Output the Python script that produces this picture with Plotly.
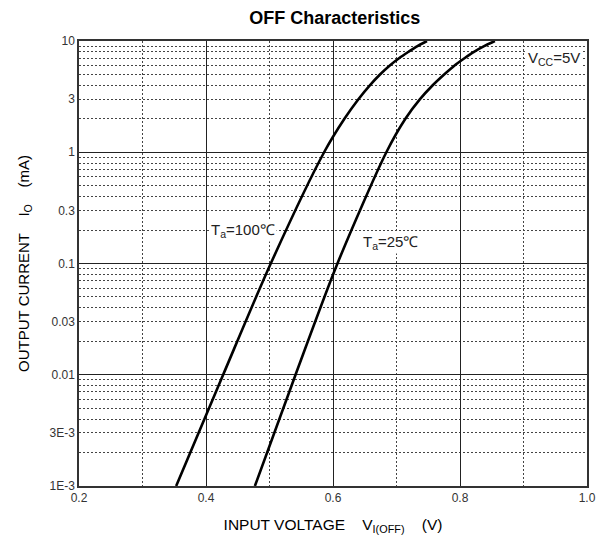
import numpy as np
import plotly.graph_objects as go

# Data
current_ma = [0.001, 0.01, 0.1, 1, 2, 3, 4, 5, 6, 7, 8, 9, 10]
v_100c = [0.353, 0.427, 0.502, 0.586, 0.618, 0.640, 0.658, 0.674, 0.689, 0.704, 0.719, 0.733, 0.748]
v_25c = [0.477, 0.541, 0.607, 0.684, 0.714, 0.737, 0.757, 0.775, 0.791, 0.807, 0.822, 0.838, 0.855]

y_tickvals = [0.001, 0.003, 0.01, 0.03, 0.1, 0.3, 1, 3, 10]
y_ticktext = ["1E-3", "3E-3", "0.01", "0.03", "0.1", "0.3", "1", "3", "10"]
x_tickvals = [0.2, 0.4, 0.6, 0.8, 1.0]
x_ticktext = ["0.2", "0.4", "0.6", "0.8", "1.0"]

FONT = "Liberation Sans, Arial, sans-serif"
TXT = "#222222"
GRID = "#444444"

fig = go.Figure()
for v in (v_100c, v_25c):
    fig.add_trace(go.Scatter(x=v, y=current_ma, mode="lines",
                             line=dict(color="black", width=2.6, shape="spline", smoothing=0.8),
                             showlegend=False, hoverinfo="skip"))

# invisible trace for the overlay axis that carries the decade grid
fig.add_trace(go.Scatter(x=[0.2], y=[1], yaxis="y2", mode="markers",
                         marker=dict(opacity=0), showlegend=False, hoverinfo="skip"))

fig.update_layout(
    width=594, height=527,
    margin=dict(l=71, r=15, t=33, b=49, autoexpand=False),
    paper_bgcolor="white", plot_bgcolor="white",
    font=dict(family=FONT, color=TXT, size=12),
    title=dict(text="<b>OFF Characteristics</b>", x=0.55, xanchor="center",
               y=0.981, yanchor="middle", font=dict(size=18, color="black", family=FONT)),
    xaxis=dict(range=[0.2, 1.0], tickvals=x_tickvals, ticktext=x_ticktext, automargin=False,
               showgrid=True, gridcolor="#222222", gridwidth=1,
               minor=dict(dtick=0.1, showgrid=True, gridcolor=GRID, griddash="2px,2px", gridwidth=1),
               showline=True, linecolor="#333333", linewidth=1.5, mirror=True,
               ticks="", zeroline=False, tickfont=dict(size=12, color="#333333"),
               title=dict(text="INPUT VOLTAGE    V<sub>I(OFF)</sub>    (V)", standoff=16,
                          font=dict(size=15.5, color="black"))),
    yaxis=dict(type="log", range=[-3, 1], tickvals=y_tickvals, ticktext=y_ticktext, automargin=False,
               showgrid=False, showline=True, linecolor="#333333", linewidth=1.5, mirror=True,
               ticks="", zeroline=False, tickfont=dict(size=12, color="#333333"),
               title=dict(text="OUTPUT CURRENT    I<sub>O</sub>    (mA)", standoff=16,
                          font=dict(size=15, color="black"))),
    yaxis2=dict(type="log", range=[-3, 1], overlaying="y", side="left", automargin=False,
                dtick=1, showticklabels=False, ticks="",
                showgrid=True, gridcolor="#222222", gridwidth=1,
                minor=dict(dtick="D1", showgrid=True, gridcolor=GRID, griddash="2px,2px", gridwidth=1),
                showline=False, zeroline=False),
)

annos = [
    ("T<sub>a</sub>=100℃", 0.458, 0.196),
    ("T<sub>a</sub>=25℃", 0.691, 0.153),
    ("V<sub>CC</sub>=5V", 0.948, 7.0),
]
for text, x, y in annos:
    fig.add_annotation(x=x, y=np.log10(y), xref="x", yref="y", text=text, showarrow=False,
                       font=dict(size=15, color=TXT, family=FONT), bgcolor="white")

fig.write_html("out.html")
